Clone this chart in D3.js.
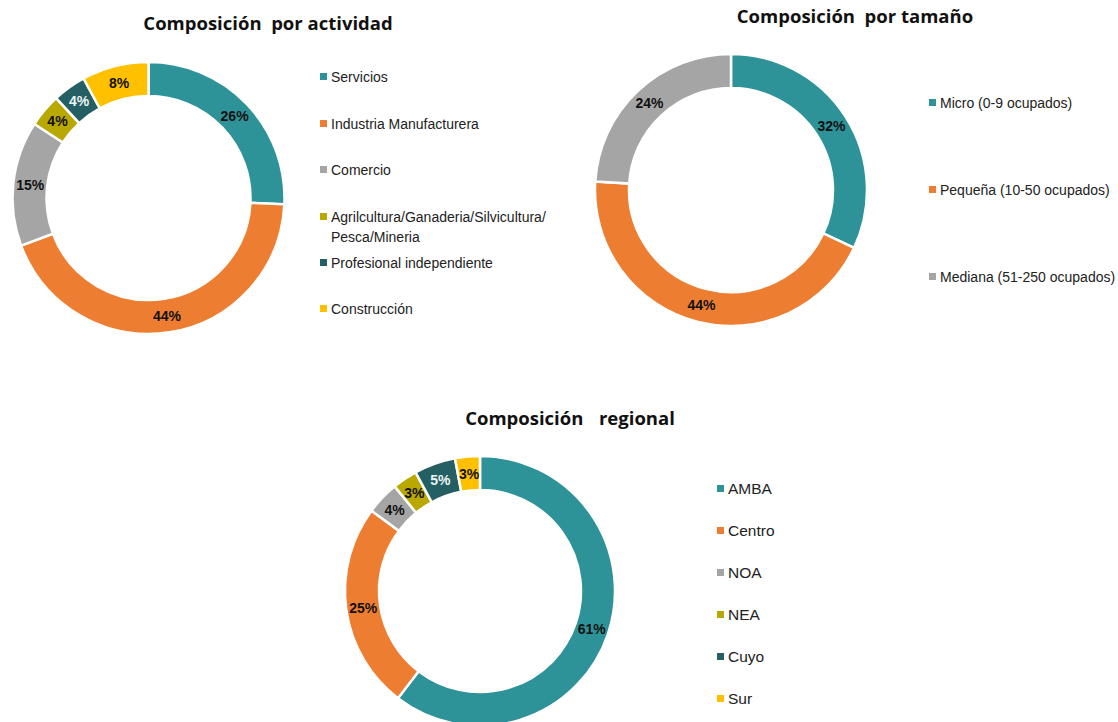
<!DOCTYPE html>
<html><head><meta charset="utf-8">
<script src="https://cdn.jsdelivr.net/npm/d3@7"></script>
<style>body{margin:0;background:#fff}svg{display:block}</style>
</head><body>
<svg id="c" width="1118" height="722"></svg>
<script>
const actCats = ["Servicios","Industria Manufacturera","Comercio","Agrilcultura/Ganaderia/Silvicultura/\nPesca/Mineria","Profesional independiente","Construcción"];
const actVals = [26,44,15,4,4,8];
const sizeCats = ["Micro (0-9 ocupados)","Pequeña (10-50 ocupados)","Mediana (51-250 ocupados)"];
const sizeVals = [32,44,24];
const regCats = ["AMBA","Centro","NOA","NEA","Cuyo","Sur"];
const regVals = [61,25,4,3,5,3];
const titles = ["Composición  por actividad","Composición  por tamaño","Composición  regional"];

const palette6 = ["#2E9399","#ED7D31","#A5A5A5","#B8A800","#235F63","#FFC000"];
const svg = d3.select("#c");

function donut(cfg){
  const g = svg.append("g").attr("transform",`translate(${cfg.cx},${cfg.cy})`);
  const pie = d3.pie().sort(null).value(d=>d);
  const arc = d3.arc().innerRadius(cfg.ri).outerRadius(cfg.ro);
  const color = d3.scaleOrdinal().domain(cfg.cats).range(palette6);
  const arcs = pie(cfg.vals);
  g.selectAll("path").data(arcs).join("path")
    .attr("d",arc).attr("fill",(d,i)=>color(cfg.cats[i]))
    .attr("stroke","#fff").attr("stroke-width",2.5);
  g.selectAll("text").data(arcs).join("text")
    .attr("transform",d=>`translate(${arc.centroid(d)})`)
    .attr("text-anchor","middle").attr("dy","0.36em")
    .attr("font-family","Liberation Sans, Arial, sans-serif")
    .attr("font-weight","bold").attr("font-size",14)
    .attr("fill",(d,i)=>i===4?"#EEF4F4":"#111")
    .text(d=>d.value+"%");
  // legend
  const lg = svg.append("g");
  const items = lg.selectAll("g").data(cfg.cats).join("g")
    .attr("transform",(d,i)=>`translate(${cfg.lx},${cfg.ly[i]})`);
  items.append("rect").attr("x",-11).attr("y",-4).attr("width",7).attr("height",7)
    .attr("fill",d=>color(d));
  items.each(function(d){
    const t = d3.select(this).append("text")
      .attr("font-family","Liberation Sans, Arial, sans-serif")
      .attr("font-size",cfg.lfs).attr("fill","#222").attr("dy","0.35em");
    d.split("\n").forEach((s,k)=>{
      t.append("tspan").attr("x",0).attr("dy",k===0?"0.35em":"1.45em").text(s);
    });
  });
  // title
  svg.append("text").attr("x",cfg.tx).attr("y",cfg.ty)
    .attr("text-anchor","middle").attr("font-family","Open Sans, sans-serif")
    .attr("font-weight","bold").attr("font-size",18.5).attr("fill","#111")
    .attr("word-spacing",cfg.ws||0)
    .style("white-space","pre").attr("xml:space","preserve")
    .text(cfg.title);
}

donut({cats:actCats,vals:actVals,cx:148.5,cy:198,ri:102,ro:136,
  lx:331,ly:[77,124,170,217,263,309],lfs:14,tx:268,ty:30,title:titles[0]});
donut({cats:sizeCats,vals:sizeVals,cx:731,cy:190,ri:102,ro:136,
  lx:940,ly:[103,190,277],lfs:14,tx:855,ty:23,title:titles[1]});
donut({cats:regCats,vals:regVals,cx:480,cy:591,ri:101,ro:135,
  lx:728,ly:[489,531,573,615,657,699],lfs:15.5,tx:570,ty:425,title:titles[2],ws:3});
</script>
</body></html>
